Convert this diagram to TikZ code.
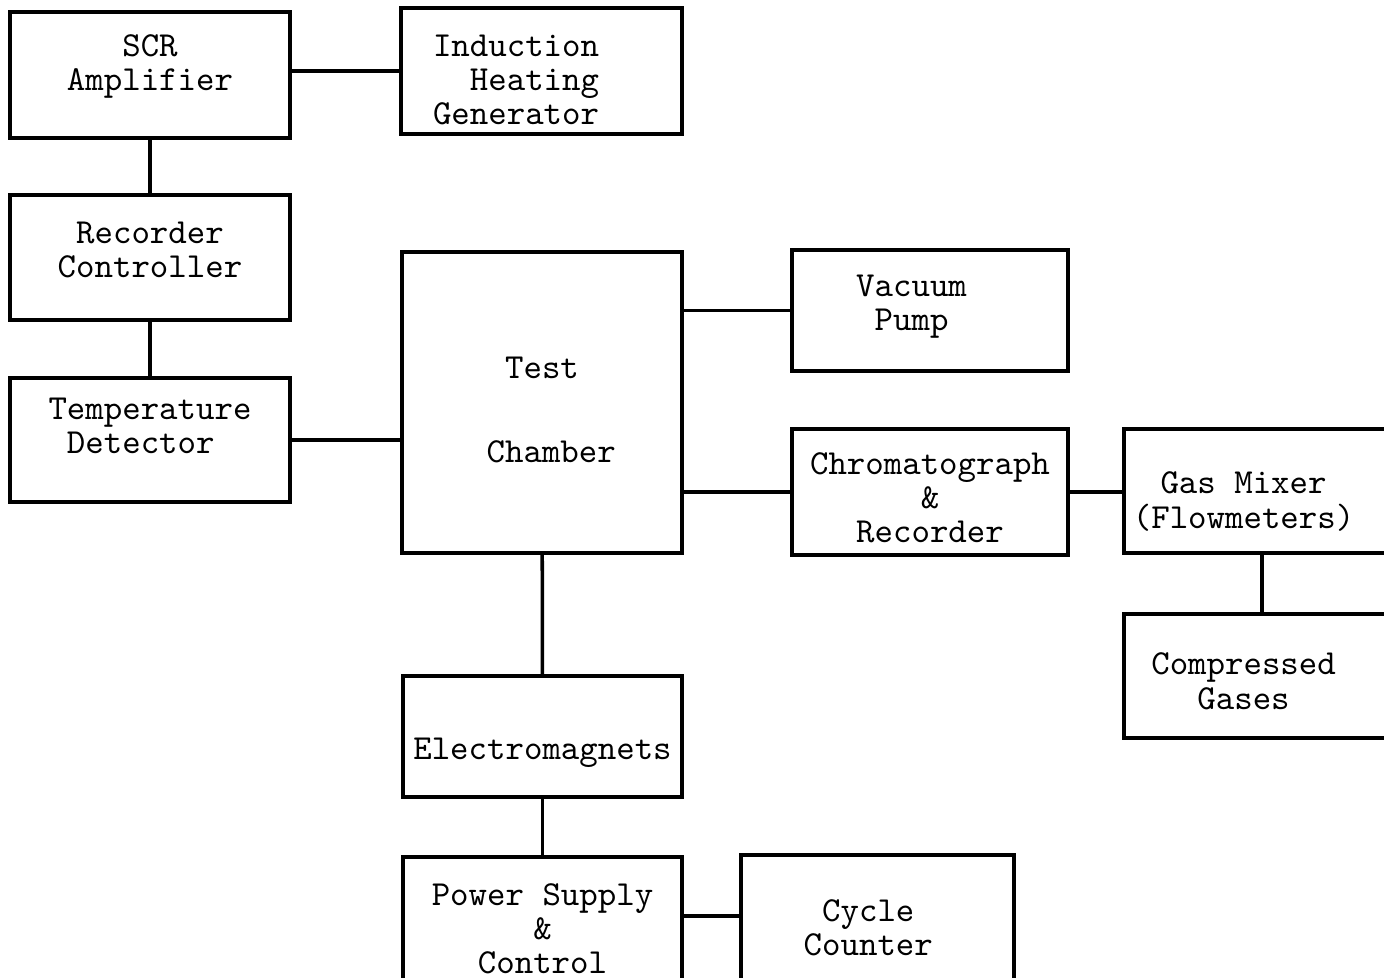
\documentclass[tikz,border=0pt]{standalone}
\usetikzlibrary{calc}
\tikzset{
  blockbox/.style={draw, line width=1pt, align=center, inner sep=0pt,
    font=\ttfamily\fontsize{10}{9.7}\selectfont},
  link/.style={line width=1pt}
}
% pad a line on the right so the centred text sits a little left
\newcommand{\padr}{\hphantom{xx}}

\begin{document}
\begin{tikzpicture}[x=0.1mm, y=-0.1mm]
\path[use as bounding box, clip] (0,0) rectangle (1384,977);

% heating loop
\node[blockbox, minimum width=28mm, minimum height=12.6mm, text depth=2.5mm] (scr) at (150,75) {SCR\\Amplifier};
\node[blockbox, minimum height=12.6mm, align=left, inner xsep=3.2mm, text width=21.7mm, text height=3.9mm] (ind) at (541.5,71) {Induction\\\hphantom{xx}Heating\\Generator};
\node[blockbox, minimum width=28mm, minimum height=12.5mm, text depth=1.6mm] (rec) at (150,257.5) {Recorder\\Controller};
\node[blockbox, minimum width=28mm, minimum height=12.4mm, text depth=2.8mm, align=left] (temp) at (150,440) {Temperature\\\hphantom{x}Detector};

% chamber and gas side
\node[blockbox, minimum width=28mm, minimum height=30.1mm, text height=12mm, text depth=0pt] (test) at (542,402.5) {Test\\[5mm]\hphantom{x}Chamber};
\node[blockbox, minimum width=27.6mm, minimum height=12.1mm, text depth=1.6mm] (vac) at (930,310.5) {Vacuum\padr\\Pump\padr};
\node[blockbox, minimum width=27.6mm, minimum height=12.6mm, text height=10.1mm, text depth=0pt] (chrom) at (930,492) {Chromatograph\\\&\\Recorder};
\node[blockbox, minimum width=27.6mm, minimum height=12.4mm, text height=7.4mm, text depth=0pt] (gas) at (1262,491) {Gas Mixer\padr\\(Flowmeters)\padr};
\node[blockbox, minimum width=27.6mm, minimum height=12.4mm, text height=6.6mm, text depth=0pt] (comp) at (1262,676) {Compressed\padr\\Gases\padr};

% magnet drive
\node[blockbox, minimum width=27.9mm, minimum height=12.1mm, text height=4.5mm, text depth=0pt] (elec) at (542.5,736.5) {Electromagnets};
\node[blockbox, minimum width=27.9mm, minimum height=14.3mm] (power) at (542.5,928.5) {Power Supply\\\&\\Control};
\node[blockbox, minimum width=27.3mm, minimum height=14.5mm] (cyc) at (877.5,927.5) {Cycle\hphantom{x}\\Counter\hphantom{x}};

\draw[link] (ind.west -| scr.east) -- (ind.west);
\draw[link] (scr) -- (rec);
\draw[link] (rec) -- (temp);
\draw[link] (temp.east) -- (temp.east -| test.west);
\draw[link] (vac.west -| test.east) -- (vac.west);
\draw[link] (chrom.west -| test.east) -- (chrom.west);
\draw[link] (chrom.east) -- (chrom.east -| gas.west);
\draw[link] (gas) -- (comp);
\draw[link] (test) -- (elec);
\draw[link] (elec) -- (power);
\draw[link] (power.5) -- (power.5 -| cyc.west);
\end{tikzpicture}
\end{document}
